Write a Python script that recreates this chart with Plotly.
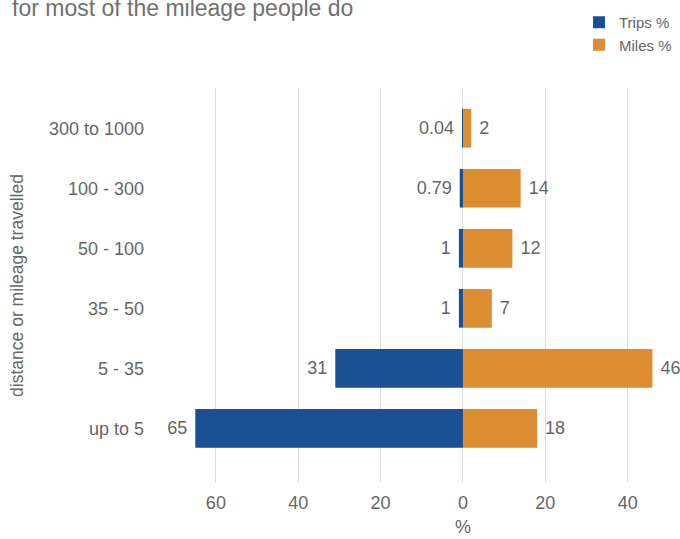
import plotly.graph_objects as go

categories = ["up to 5", "5 - 35", "35 - 50", "50 - 100", "100 - 300", "300 to 1000"]
trips_pct = [65, 31, 1, 1, 0.79, 0.04]
miles_pct = [18, 46, 7, 12, 14, 2]
tick_vals = [-60, -40, -20, 0, 20, 40]
tick_text = ["60", "40", "20", "0", "20", "40"]

BLUE = "#185092"
ORANGE = "#dd8d32"
TXT = "#666666"
FONT = "Liberation Sans, Arial, Helvetica, sans-serif"

fig = go.Figure()
fig.add_trace(go.Bar(
    y=categories, x=[-v for v in trips_pct], orientation="h", name="Trips %",
    marker=dict(color=BLUE, line=dict(width=0)),
    text=[f"{v:g}\u00a0" for v in trips_pct], textposition="outside",
    textfont=dict(size=18, color=TXT, family=FONT), cliponaxis=False,
    constraintext="none",
))
fig.add_trace(go.Bar(
    y=categories, x=miles_pct, orientation="h", name="Miles %",
    marker=dict(color=ORANGE, line=dict(width=0)),
    text=[f"\u00a0{v:g}" for v in miles_pct], textposition="outside",
    textfont=dict(size=18, color=TXT, family=FONT), cliponaxis=False,
    constraintext="none",
))

fig.update_layout(
    width=680, height=539,
    margin=dict(l=150, r=0, t=88, b=56, autoexpand=False),
    paper_bgcolor="white", plot_bgcolor="white",
    barmode="relative", bargap=0.355,
    font=dict(family=FONT, color=TXT, size=18),
    title=dict(text="for most of the mileage people do", x=12/680, xanchor="left",
               xref="container", yref="container", y=1 - 7.5/539, yanchor="middle",
               font=dict(size=23, color="#707070", family=FONT)),
    legend=dict(x=579/680, xanchor="left", xref="container", yref="container",
                y=1 - 6/539, yanchor="top", traceorder="normal",
                font=dict(size=15, color=TXT, family=FONT), bgcolor="rgba(0,0,0,0)"),
    showlegend=True,
    annotations=[dict(text="%", x=0, xref="x", y=-56/395, yref="paper",
                      xanchor="center", yanchor="bottom", showarrow=False,
                      font=dict(size=18, color=TXT, family=FONT))],
)
fig.update_xaxes(
    range=[-76.0, 52.7], tickvals=tick_vals, ticktext=tick_text,
    showgrid=True, gridcolor="#dddddd", gridwidth=1,
    zeroline=True, zerolinecolor="#dddddd", zerolinewidth=1,
    showline=False, ticks="", tickfont=dict(size=18, color=TXT),
    ticklabelstandoff=7,
    automargin=False,
)
fig.update_yaxes(
    type="category", categoryorder="array", categoryarray=categories,
    range=[-0.91, 5.67], showgrid=False, zeroline=False, showline=False,
    ticks="", tickfont=dict(size=18, color=TXT), ticklabelstandoff=5,
    title=dict(text="distance or mileage travelled", font=dict(size=17.5, color=TXT), standoff=20),
    automargin=False,
)

fig.write_html("out.html")
